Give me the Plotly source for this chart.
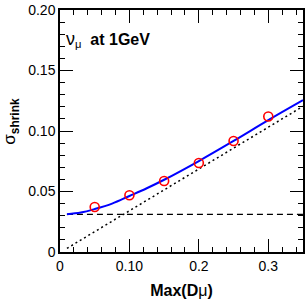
import plotly.graph_objects as go

# data points (red circles)
pt_x = [0.05, 0.10, 0.15, 0.20, 0.25, 0.30]
pt_y = [0.0372, 0.0469, 0.0587, 0.0736, 0.0917, 0.1120]

# blue fit curve
fit_x = [0.01, 0.03, 0.05, 0.075, 0.10, 0.125, 0.15, 0.20, 0.25, 0.30, 0.35]
fit_y = [0.0312, 0.0326, 0.0355, 0.0400, 0.0463, 0.0527, 0.0597, 0.0752, 0.0918, 0.1090, 0.1255]

# dashed constant term
dash_x = [0.01, 0.35]
dash_y = [0.0311, 0.0311]

# dotted linear term
dot_x = [0.01, 0.35]
dot_y = [0.0030, 0.1204]

x_ticks = [0, 0.1, 0.2, 0.3]
x_ticktext = ["0", "0.10", "0.2", "0.3"]
y_ticks = [0, 0.05, 0.10, 0.15, 0.20]
y_ticktext = ["0", "0.05", "0.10", "0.15", "0.20"]

FONT = "Liberation Sans, Arial, Helvetica, sans-serif"

fig = go.Figure()
fig.add_trace(go.Scatter(x=dash_x, y=dash_y, mode="lines", hoverinfo="skip",
                         line=dict(color="black", width=1.3, dash="6px,4px")))
fig.add_trace(go.Scatter(x=dot_x, y=dot_y, mode="lines", hoverinfo="skip",
                         line=dict(color="black", width=1.5, dash="2px,3px")))
fig.add_trace(go.Scatter(x=fit_x, y=fit_y, mode="lines", line_shape="spline", hoverinfo="skip",
                         line=dict(color="#0000ff", width=2)))
fig.add_trace(go.Scatter(x=pt_x, y=pt_y, mode="markers", hoverinfo="skip",
                         marker=dict(symbol="circle-open", size=9, color="#ff0000",
                                     line=dict(width=1.6, color="#ff0000"))))

axis_common = dict(showgrid=False, zeroline=False, showline=True, linecolor="black",
                   linewidth=1.5, mirror="allticks", ticks="inside", tickcolor="black",
                   tickwidth=1.2, ticklen=13, automargin=False, layer="above traces",
                   tickfont=dict(family=FONT, size=14, color="black"))

fig.update_xaxes(range=[0, 0.35], tickmode="array", tickvals=x_ticks, ticktext=x_ticktext,
                 minor=dict(tickmode="linear", dtick=0.02, tick0=0, ticks="inside", ticklen=5,
                            tickcolor="black", tickwidth=1),
                 title=dict(text="<b>Max(D</b>μ<b>)</b>", font=dict(family=FONT, size=16, color="black"),
                            standoff=12),
                 **axis_common)
fig.update_yaxes(range=[0, 0.2], tickmode="array", tickvals=y_ticks, ticktext=y_ticktext,
                 minor=dict(tickmode="linear", dtick=0.01, tick0=0, ticks="inside", ticklen=5,
                            tickcolor="black", tickwidth=1),
                 title=dict(text="&nbsp;&nbsp;&nbsp;&nbsp;σ<sub><b>shrink</b></sub>",
                            font=dict(family=FONT, size=17, color="black"), standoff=10),
                 **axis_common)

fig.add_annotation(xref="paper", yref="paper", x=0.016, y=0.93, xanchor="left", yanchor="top",
                   text="<span style='font-size:18px'>ν</span><sub>μ</sub>&nbsp;&nbsp;<b>at 1GeV</b>",
                   showarrow=False, font=dict(family=FONT, size=16, color="black"))

fig.update_layout(width=305, height=300, margin=dict(l=60, r=2, t=10, b=48),
                  plot_bgcolor="rgba(0,0,0,0)", paper_bgcolor="white", showlegend=False,
                  hovermode=False)

# remove the default 8px page margin so the figure fills the window exactly
fig.write_html("out.html", config={"displayModeBar": False},
               post_script="document.body.style.margin='0px';")
